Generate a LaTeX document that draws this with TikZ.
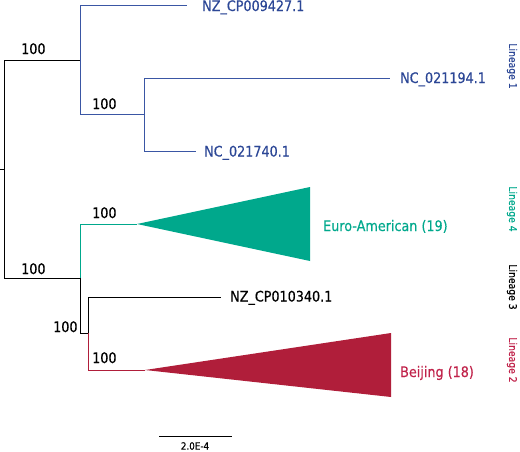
\documentclass[tikz,border=0pt]{standalone}
\usepackage{fontspec}
\setmainfont{DejaVu Sans}[FakeStretch=0.88,FakeBold=0.4]
\definecolor{linblue}{HTML}{3A56A4}
\definecolor{txtblue}{HTML}{2C4796}
\definecolor{linteal}{HTML}{00A88C}
\definecolor{linred}{HTML}{B01E3A}
\definecolor{txtred}{HTML}{C0224A}
\begin{document}
\begin{tikzpicture}[x=1pt,y=-1pt,
  br/.style={line width=1pt},
  tip/.style={font=\fontsize{14.5}{16}\selectfont, anchor=base west, inner sep=0pt},
  boot/.style={font=\fontsize{14.5}{16}\selectfont, anchor=base west, inner sep=0pt},
  lin/.style={font=\fontsize{10.5}{12}\selectfont, rotate=-90, inner sep=0pt}]
\useasboundingbox (0,0) rectangle (520,451);
% coordinates
\coordinate (stub) at (0,169);
\coordinate (rootT) at (4,60);
\coordinate (rootM) at (4,169);
\coordinate (rootB) at (4,278);
\coordinate (a1) at (80,60);
\coordinate (a1t) at (80,5);
\coordinate (a1b) at (80,114);
\coordinate (t1) at (187,5);
\coordinate (a2) at (144,114);
\coordinate (a2t) at (144,78);
\coordinate (a2b) at (144,151);
\coordinate (t2) at (390,78);
\coordinate (t3) at (196,151);
\coordinate (b1) at (80,278);
\coordinate (b1t) at (80,224);
\coordinate (b1b) at (80,333);
\coordinate (eA) at (137,224);
\coordinate (eB) at (310,187);
\coordinate (eC) at (310,261);
\coordinate (c1) at (88,333);
\coordinate (c1t) at (88,297);
\coordinate (c1b) at (88,370);
\coordinate (t4) at (221,297);
\coordinate (bA) at (145,370);
\coordinate (bB) at (391,333);
\coordinate (bC) at (391,397);
\coordinate (s1) at (159,436);
\coordinate (s2) at (232,436);
% black backbone
\draw[br] (stub) -- (rootM);
\draw[br] (rootT) -- (rootB);
\draw[br] (rootT) -- (a1);
\draw[br] (rootB) -- (b1);
% lineage 1
\draw[br, linblue] (a1t) -- (a1b);
\draw[br, linblue] (a1t) -- (t1);
\draw[br, linblue] (a1b) -- (a2);
\draw[br, linblue] (a2t) -- (a2b);
\draw[br, linblue] (a2t) -- (t2);
\draw[br, linblue] (a2b) -- (t3);
% lineage 4
\draw[br, linteal] (b1) -- (b1t) -- (eA);
\fill[linteal] (eA) -- (eB) -- (eC) -- cycle;
% lineage 3 / 2
\draw[br] (b1) -- (b1b) -- (c1);
\draw[br] (c1) -- (c1t) -- (t4);
\draw[br, linred] (c1) -- (c1b) -- (bA);
\fill[linred] (bA) -- (bB) -- (bC) -- cycle;
% scale bar
\draw[br] (s1) -- (s2);
\node[font=\fontsize{10}{12}\selectfont, inner sep=0pt] (sl) at (195,446) {2.0E-4};
% tip labels
\node[tip, txtblue] (n1) at (202,11) {NZ\_CP009427.1};
\node[tip, txtblue] (n2) at (400,83) {NC\_021194.1};
\node[tip, txtblue] (n3) at (204,156.5) {NC\_021740.1};
\node[tip, linteal] (n4) at (323,231) {Euro-American (19)};
\node[tip] (n5) at (230,301.5) {NZ\_CP010340.1};
\node[tip, txtred] (n6) at (400,377) {Beijing (18)};
% bootstrap
\node[boot] (bs1) at (21,54) {100};
\node[boot] (bs2) at (92,109) {100};
\node[boot] (bs3) at (92,218) {100};
\node[boot] (bs4) at (21,274) {100};
\node[boot] (bs5) at (53,332) {100};
\node[boot] (bs6) at (92,363) {100};
% lineage labels
\node[lin, txtblue] (l1) at (512,66) {Lineage 1};
\node[lin, linteal] (l4) at (512,209) {Lineage 4};
\node[lin] (l3) at (512,287) {Lineage 3};
\node[lin, txtred] (l2) at (512,360) {Lineage 2};
\end{tikzpicture}
\end{document}
